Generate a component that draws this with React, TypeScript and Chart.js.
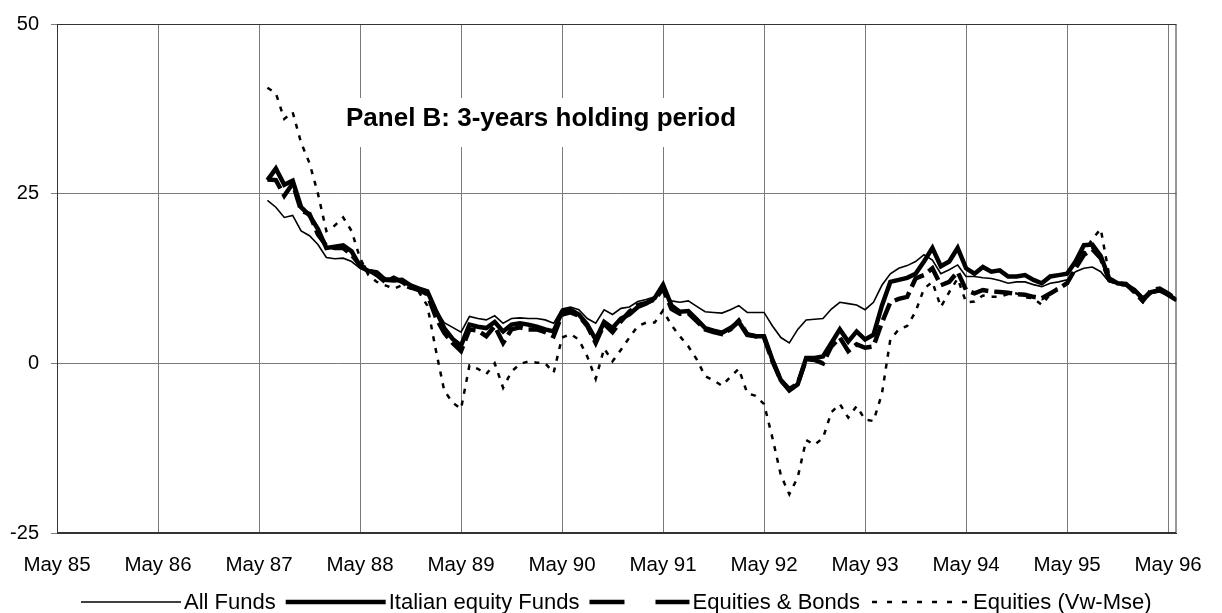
import React, { useEffect, useRef } from 'react';
import { Chart, registerables } from 'chart.js';

Chart.register(...registerables);

// Tick labels on the x axis (one per year, every May)
const yearTicks = ['May 85', 'May 86', 'May 87', 'May 88', 'May 89', 'May 90', 'May 91', 'May 92', 'May 93', 'May 94', 'May 95', 'May 96'];
const yTicks = [-25, 0, 25, 50];

// First observation: Jun 87 (25 months after May 85); monthly through Jun 96
const firstMonth = 25;

const allFunds = [
  24.0, 23.0, 21.5, 21.8, 19.5, 18.8, 17.5, 15.6, 15.4, 15.5, 15.0, 14.0,
  13.5, 13.2, 12.6, 12.5, 12.0, 11.3, 11.0, 10.8, 8.0, 6.0, 5.3, 4.6,
  6.9, 6.6, 6.4, 7.0, 5.9, 6.6, 6.7, 6.6, 6.6, 6.4, 5.9, 8.0,
  8.3, 7.9, 6.6, 5.9, 7.9, 7.2, 8.1, 8.3, 9.1, 9.4, 9.8, 10.8,
  9.2, 9.0, 9.2, 8.4, 7.6, 7.5, 7.4, 7.9, 8.5, 7.5, 7.5, 7.5,
  5.5, 3.8, 3.0, 5.0, 6.4, 6.5, 6.6, 8.0, 9.0, 8.8, 8.6, 7.9,
  9.0, 11.5, 13.2, 14.0, 14.4, 15.0, 16.0, 15.2, 13.2, 13.8, 14.5, 12.8,
  12.8, 12.6, 12.5, 12.2, 11.8, 12.0, 12.0, 11.6, 11.3, 11.8, 12.0, 12.3,
  13.5, 14.0, 14.2, 13.5, 12.0, 11.8, 11.5, 11.0, 9.8, 10.3, 10.5, 10.0, 9.2,
];

const italianEquity = [
  27.0, 28.7, 26.3, 26.9, 23.0, 21.8, 19.8, 17.0, 17.2, 17.4, 16.5, 14.3,
  13.6, 13.4, 12.3, 12.2, 12.3, 11.5, 11.0, 10.6, 7.8, 5.2, 3.6, 2.6,
  5.7, 5.4, 5.2, 6.1, 4.7, 5.7, 5.9, 5.7, 5.4, 5.0, 4.7, 7.6,
  7.9, 7.2, 5.7, 3.5, 6.1, 5.2, 6.6, 7.2, 8.3, 8.8, 9.6, 11.6,
  8.5, 7.6, 7.7, 6.5, 5.2, 4.8, 4.5, 5.2, 6.1, 4.2, 4.0, 4.0,
  0.5, -2.5, -4.0, -3.1, 0.8, 0.8, 1.0, 3.0, 5.0, 3.2, 4.7, 3.5,
  4.2, 8.5, 12.0, 12.3, 12.6, 13.2, 15.0, 17.0, 14.3, 15.0, 17.0, 14.0,
  13.2, 14.2, 13.5, 13.7, 12.8, 12.8, 13.0, 12.3, 11.8, 12.8, 13.0, 13.2,
  15.0, 17.4, 17.5, 15.8, 12.5, 11.8, 11.6, 10.8, 9.5, 10.5, 10.8, 10.1, 9.3,
];

const equitiesBonds = [
  27.1, 27.0, 24.7, 26.5, 22.5, 22.0, 19.0, 17.3, 17.0, 17.0, 16.0, 14.5,
  13.8, 13.0, 12.0, 12.6, 12.0, 11.2, 10.8, 10.2, 6.8, 4.5, 3.0, 1.8,
  5.0, 4.8, 4.0, 5.5, 3.0, 5.0, 5.3, 5.0, 5.0, 4.6, 4.0, 7.2,
  7.5, 7.0, 5.5, 3.0, 5.8, 4.6, 6.2, 7.6, 8.6, 8.9, 9.4, 11.0,
  8.0, 7.3, 7.4, 6.2, 5.0, 4.6, 4.3, 5.0, 6.3, 4.3, 4.0, 3.8,
  0.3, -2.5, -3.8, -3.0, 0.6, 0.5, 0.0, 2.5, 3.8, 1.8, 2.8, 2.3,
  2.5, 6.0, 9.0, 9.5, 9.8, 12.5, 13.0, 14.0, 11.5, 12.0, 13.5, 10.8,
  10.3, 10.8, 10.6, 10.5, 10.4, 10.2, 10.1, 9.8, 9.6, 10.3, 11.0, 11.8,
  14.0, 16.0, 16.8, 15.5, 12.3, 11.8, 11.7, 10.5, 9.2, 10.8, 11.0, 10.3, 9.4,
];

const equitiesVwMse = [
  40.6, 39.8, 36.0, 37.0, 32.5, 29.5, 25.0, 19.5, 20.3, 21.5, 19.5, 15.5,
  13.0, 12.0, 11.5, 11.0, 11.5, 11.0, 10.5, 8.5, 2.0, -4.0, -5.8, -6.7,
  -0.3, -0.8, -1.6, 0.0, -3.6, -1.2, -0.1, 0.3, 0.1, 0.0, -1.4, 3.8,
  4.3, 3.5, 1.0, -2.3, 2.2, 0.3, 2.0, 3.8, 5.5, 6.0, 6.0, 7.8,
  5.6, 4.0, 2.5, 0.6, -1.9, -2.5, -3.3, -2.0, -0.8, -4.4, -4.8, -6.0,
  -11.0, -16.5, -19.3, -16.8, -11.3, -12.0, -11.0, -7.2, -6.0, -8.0, -6.3, -8.3,
  -8.5, -4.5, 3.5, 5.0, 5.5, 7.6, 11.0, 12.0, 8.3, 10.5, 12.5, 9.0,
  9.1, 10.0, 9.8, 9.8, 10.2, 10.3, 9.7, 9.6, 8.6, 10.2, 11.3, 11.8,
  14.2, 16.4, 18.3, 19.8, 13.0, 11.5, 11.5, 10.5, 9.0, 10.5, 11.0, 10.0, 9.2,
];

const seriesNames = ['All Funds', 'Italian equity Funds', 'Equities & Bonds', 'Equities (Vw-Mse)'];
const titleText = 'Panel B: 3-years holding period';

const FONT = "'Liberation Sans', Arial, Helvetica, sans-serif";

const toPoints = (arr: number[]) => arr.map((v, i) => ({ x: firstMonth + i, y: v }));

const framePlugin = {
  id: 'frameAndTitle',
  beforeDatasetsDraw(chart: any) {
    const { ctx, chartArea } = chart;
    const { left, right, top, bottom } = chartArea;
    ctx.save();
    ctx.strokeStyle = '#333';
    ctx.lineWidth = 1;
    ctx.strokeRect(left + 0.5, top + 0.5, right - left - 1, bottom - top - 1);
    // title box
    ctx.fillStyle = '#fff';
    ctx.fillRect(338, 98, 410, 49);
    ctx.fillStyle = '#000';
    ctx.font = `bold 26px ${FONT}`;
    ctx.textAlign = 'left';
    ctx.textBaseline = 'alphabetic';
    ctx.fillText(titleText, 346, 126);
    ctx.restore();
  },
};

const legendPlugin = {
  id: 'customLegend',
  afterDraw(chart: any) {
    const { ctx } = chart;
    const y = 602;
    ctx.save();
    ctx.strokeStyle = '#000';
    ctx.lineCap = 'butt';
    ctx.font = `22px ${FONT}`;
    const gapAfterLine = 3;
    const gapAfterText = 10;
    const sampleLen = 100;
    let x = 81;
    const drawSample = (i: number, x0: number) => {
      const x1 = x0 + sampleLen;
      ctx.setLineDash([]);
      if (i === 0) {
        ctx.lineWidth = 1.6;
        ctx.beginPath(); ctx.moveTo(x0, y); ctx.lineTo(x1, y); ctx.stroke();
      } else if (i === 1) {
        ctx.lineWidth = 4.5;
        ctx.beginPath(); ctx.moveTo(x0, y); ctx.lineTo(x1, y); ctx.stroke();
      } else if (i === 2) {
        ctx.lineWidth = 4.5;
        ctx.beginPath(); ctx.moveTo(x0, y); ctx.lineTo(x0 + 35, y); ctx.stroke();
        ctx.beginPath(); ctx.moveTo(x1 - 34, y); ctx.lineTo(x1, y); ctx.stroke();
      } else {
        ctx.lineWidth = 2.5;
        for (let k = 0; k < 7; k++) {
          const a = x0 + 2 + k * 15;
          if (a + 5 > x1) break;
          ctx.beginPath(); ctx.moveTo(a, y); ctx.lineTo(a + 5, y); ctx.stroke();
        }
      }
      return x1;
    };
    ctx.fillStyle = '#000';
    ctx.textBaseline = 'middle';
    ctx.textAlign = 'left';
    seriesNames.forEach((n, i) => {
      const end = drawSample(i, x);
      const tx = end + gapAfterLine;
      ctx.fillText(n, tx, y + 1);
      x = tx + ctx.measureText(n).width + gapAfterText;
    });
    ctx.restore();
  },
};

export default function App() {
  const ref = useRef<HTMLCanvasElement>(null);
  useEffect(() => {
    if (!ref.current) return;
    const chart = new Chart(ref.current, {
      type: 'line',
      data: {
        datasets: [
          { label: seriesNames[0], data: toPoints(allFunds), borderColor: '#000', borderWidth: 1.6, pointRadius: 0, tension: 0, fill: false },
          { label: seriesNames[1], data: toPoints(italianEquity), borderColor: '#000', borderWidth: 4.5, pointRadius: 0, tension: 0, fill: false },
          { label: seriesNames[2], data: toPoints(equitiesBonds), borderColor: '#000', borderWidth: 4.5, borderDash: [18, 6], pointRadius: 0, tension: 0, fill: false },
          { label: seriesNames[3], data: toPoints(equitiesVwMse), borderColor: '#000', borderWidth: 2.5, borderDash: [5, 7], pointRadius: 0, tension: 0, fill: false },
        ],
      },
      options: {
        responsive: false,
        animation: false,
        events: [],
        layout: { padding: { left: 0, right: 40, top: 21, bottom: 0 } },
        plugins: { legend: { display: false }, tooltip: { enabled: false }, title: { display: false } },
        scales: {
          x: {
            type: 'linear',
            min: 0,
            max: 133,
            afterBuildTicks: (s: any) => { s.ticks = yearTicks.map((_, k) => ({ value: k * 12 })); },
            afterFit: (s: any) => { s.height = 80; },
            ticks: {
              autoSkip: false,
              maxRotation: 0,
              padding: 20,
              color: '#000',
              font: { family: FONT, size: 20.5 },
              callback: (v: any) => yearTicks[Math.round(Number(v) / 12)] ?? '',
            },
            grid: { color: '#7a7a7a', lineWidth: 1, drawTicks: false },
            border: { color: '#333', width: 1 },
          },
          y: {
            min: -25,
            max: 50,
            afterBuildTicks: (s: any) => { s.ticks = yTicks.map((v) => ({ value: v })); },
            afterFit: (s: any) => { s.width = 57; },
            ticks: { padding: 12, color: '#000', font: { family: FONT, size: 20 } },
            grid: { color: '#7a7a7a', lineWidth: 1, tickLength: 6 },
            border: { color: '#333', width: 1 },
          },
        },
      },
      plugins: [framePlugin, legendPlugin],
    });
    return () => chart.destroy();
  }, []);
  return (
    <canvas
      ref={ref}
      width={1222}
      height={613}
      style={{ position: 'fixed', left: 0, top: 0, width: 1222, height: 613, background: '#fff' }}
    />
  );
}
